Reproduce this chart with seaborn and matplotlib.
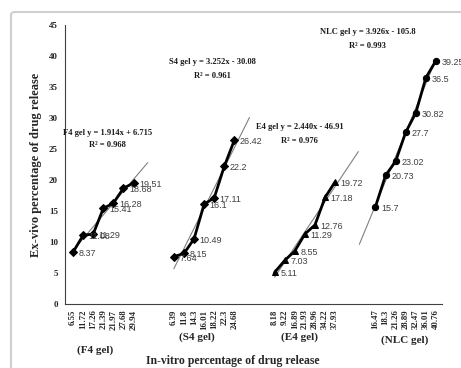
import numpy as np
import pandas as pd
import matplotlib
matplotlib.use("Agg")
import matplotlib.pyplot as plt
import seaborn as sns
from matplotlib.patches import FancyBboxPatch

# ---------------- data ----------------
groups = ["F4 gel", "S4 gel", "E4 gel", "NLC gel"]
invitro_f4 = ["6.55", "11.72", "17.26", "21.39", "21.97", "27.68", "29.94"]
invitro_s4 = ["6.39", "11.8", "14.3", "16.01", "18.22", "22.3", "24.68"]
invitro_e4 = ["8.18", "9.22", "16.89", "21.93", "28.96", "34.22", "37.93"]
invitro_nlc = ["16.47", "18.3", "21.26", "28.89", "32.47", "36.01", "40.76"]
exvivo_f4 = [8.37, 11.08, 11.29, 15.41, 16.28, 18.68, 19.51]
exvivo_s4 = [7.64, 8.15, 10.49, 16.1, 17.11, 22.2, 26.42]
exvivo_e4 = [5.11, 7.03, 8.55, 11.29, 12.76, 17.18, 19.72]
exvivo_nlc = [15.7, 20.73, 23.02, 27.7, 30.82, 36.5, 39.25]
slopes = [1.914, 3.252, 2.440, 3.926]
intercepts = [6.715, -30.08, -46.91, -105.8]
eq_labels = ["F4 gel y = 1.914x + 6.715", "S4 gel y = 3.252x - 30.08",
             "E4 gel y = 2.440x - 46.91", "NLC gel y = 3.926x - 105.8"]
r2_labels = ["R² = 0.968", "R² = 0.961", "R² = 0.976", "R² = 0.993"]

invitro = [invitro_f4, invitro_s4, invitro_e4, invitro_nlc]
exvivo = [exvivo_f4, exvivo_s4, exvivo_e4, exvivo_nlc]

# ---------------- layout / style ----------------
group_start = [1, 11, 21, 31]          # category slot of first point of each group
trend_range = [(1, 8.4), (11, 18.5), (21, 29.3), (29.4, 37)]
markers = {"F4 gel": "D", "S4 gel": "D", "E4 gel": "^", "NLC gel": "o"}
eq_pos = [(4.4, 27.6, 25.6), (14.8, 39.0, 36.8), (23.5, 28.5, 26.3), (30.2, 43.8, 41.6)]
group_label_pos = [(3.2, -7.4), (13.3, -5.4), (23.5, -5.4), (33.9, -5.9)]
sep_ticks = [9.1, 19.25, 27.0]

rows = []
for g, s, vals in zip(groups, group_start, exvivo):
    for i, v in enumerate(vals):
        rows.append({"pos": s + i, "val": v, "group": g})
df = pd.DataFrame(rows)

sns.set_theme(style="white")
serif = ["Liberation Serif", "DejaVu Serif"]
plt.rcParams["font.family"] = ["Liberation Sans", "DejaVu Sans"]

fig = plt.figure(figsize=(4.61, 3.68), dpi=100)
ax = fig.add_axes([65 / 461, 1 - 304 / 368, 377 / 461, 279 / 368])

sns.lineplot(data=df, x="pos", y="val", hue="group", style="group",
             markers=markers, dashes=False, palette=["black"] * 4,
             linewidth=2.0, markersize=4.5, markeredgecolor="black",
             legend=False, ax=ax, sort=False)

for (x0, x1), m, b in zip(trend_range, slopes, intercepts):
    xs = np.array([x0, x1])
    ax.plot(xs, m * xs + b, color="#7f7f7f", lw=0.8, zorder=1)

# data labels
for _, r in df.iterrows():
    ax.annotate(f"{r['val']:g}", (r["pos"], r["val"]), xytext=(4, -1),
                textcoords="offset points", ha="left", va="center",
                fontsize=6.5, color="#404040")

# equations
for (x, y1, y2), e, r in zip(eq_pos, eq_labels, r2_labels):
    ax.text(x, y1, e, ha="center", va="center", fontsize=6.1,
            fontweight="bold", family=serif, color="#1a1a1a")
    ax.text(x, y2, r, ha="center", va="center", fontsize=6.1,
            fontweight="bold", family=serif, color="#1a1a1a")

ax.set_xlim(0.2, 37.6)
ax.set_ylim(0, 45)
ax.set_yticks(np.arange(0, 46, 5))

positions = [s + i for s in group_start for i in range(7)]
labels = [t for grp in invitro for t in grp]
ax.set_xticks(positions)
ax.set_xticklabels(labels, rotation=90, fontsize=6.3, fontweight="bold",
                   family=serif)
ax.set_xticks(sep_ticks, minor=True)
ax.tick_params(axis="x", which="major", length=0, pad=4)
ax.tick_params(axis="x", which="minor", length=3, width=0.7, color="#404040",
               direction="in")
ax.tick_params(axis="y", length=3, width=0.7, color="#404040", direction="out",
               pad=2)
for lab in ax.get_yticklabels():
    lab.set_fontsize(6.5)
    lab.set_fontweight("bold")
    lab.set_family(serif)

for side in ["top", "right"]:
    ax.spines[side].set_visible(False)
for side in ["left", "bottom"]:
    ax.spines[side].set_color("#404040")
    ax.spines[side].set_linewidth(0.8)

ax.set_xlabel("")
ax.set_ylabel("Ex-vivo percentage of drug release", fontsize=9,
              fontweight="bold", family=serif, labelpad=5)

for (x, y), g in zip(group_label_pos, groups):
    ax.text(x, y, f"({g})", ha="center", va="center", fontsize=8,
            fontweight="bold", family=serif, clip_on=False)

fig.text(233 / 461, 1 - 361 / 368, "In-vitro percentage of drug release",
         ha="center", va="center", fontsize=8.5, fontweight="bold",
         family=serif)

frame = FancyBboxPatch((11 / 461, -0.1), 1.2, 1 - 12 / 368 + 0.1,
                       boxstyle="round,pad=0,rounding_size=0.008",
                       transform=fig.transFigure, fill=False,
                       edgecolor="#cfcfcf", lw=1.5)
fig.patches.append(frame)

fig.savefig("out.png", dpi=100)
